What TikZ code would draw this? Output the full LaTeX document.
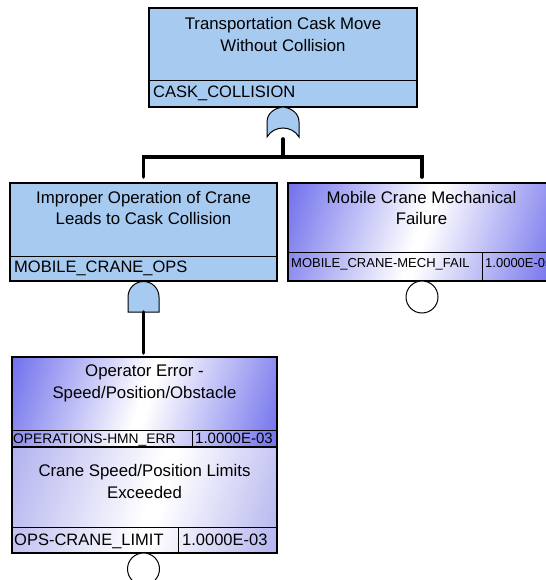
\documentclass[tikz,border=0pt]{standalone}
\usepackage{fontspec}
\setmainfont{Liberation Sans}
\definecolor{ftblue}{RGB}{166,202,240}
\definecolor{ftpurple}{RGB}{110,110,236}
\definecolor{ftlav}{RGB}{172,172,238}
\pgfdeclareverticalshading{evax}{100bp}{color(0bp)=(ftpurple); color(18bp)=(ftpurple); color(49bp)=(white); color(51bp)=(white); color(82bp)=(ftpurple); color(100bp)=(ftpurple)}
\pgfdeclareverticalshading{lavax}{100bp}{color(0bp)=(ftlav); color(16bp)=(ftlav); color(46bp)=(white); color(49bp)=(white); color(84bp)=(ftlav); color(100bp)=(ftlav)}
\tikzset{
  box/.style={draw=black, line width=1.3bp, inner sep=0pt, outer sep=0pt, anchor=north west},
  bluebox/.style={box, fill=ftblue},
  evbox/.style={box, shading=evax, shading angle=72},
  lavbox/.style={box, shading=lavax, shading angle=72},
  divline/.style={draw=black, line width=1bp},
  lbl/.style={anchor=base, inner sep=0pt, font=\fontsize{16.8bp}{19bp}\selectfont},
  idl/.style={anchor=base west, inner sep=0pt, font=\fontsize{16.5bp}{19bp}\selectfont},
  idsmall/.style={anchor=base west, inner sep=0pt, font=\fontsize{13bp}{15bp}\selectfont},
  idmid/.style={anchor=base west, inner sep=0pt, font=\fontsize{13.8bp}{16bp}\selectfont},
  conn/.style={draw=black, line width=3.6bp, line cap=round},
  gate/.style={draw=black, line width=1bp, fill=ftblue},
  basic/.style={circle, draw=black, line width=1bp, fill=white, minimum size=32bp, inner sep=0pt}
}
\begin{document}
\begin{tikzpicture}[x=1bp,y=-1bp]
\useasboundingbox (0,0) rectangle (546,580);
\clip (0,0) rectangle (546,580);
% top gate event
\node[bluebox, minimum width=268bp, minimum height=99bp] (top) at (149,8) {};
\draw[divline] (149,81) -- (417,81);
\node[lbl] (topt1) at (283,30) {Transportation Cask Move};
\node[lbl] (topt2) at (283,52) {Without Collision};
\node[idl] (topid) at (153,98) {CASK\_COLLISION};
% OR gate
\draw[gate] (267,137) -- (267,122) .. controls (267,113) and (275,108) .. (283,107)
  .. controls (291,108) and (299,113) .. (299,122) -- (299,137)
  .. controls (292,125) and (274,125) .. (267,137) -- cycle;
\coordinate (orout) at (283,139);
\coordinate (split) at (283,157);
% left gate event
\node[bluebox, minimum width=267bp, minimum height=98bp] (lbox) at (10,183) {};
\draw[divline] (10,256) -- (277,256);
\node[lbl] (lt1) at (143.5,203) {Improper Operation of Crane};
\node[lbl] (lt2) at (143.5,224) {Leads to Cask Collision};
\node[idl] (lid) at (14,272) {MOBILE\_CRANE\_OPS};
% right basic event
\node[evbox, minimum width=267bp, minimum height=98bp] (rbox) at (288,183) {};
\draw[divline] (288,252) -- (555,252);
\draw[divline] (482,252) -- (482,281);
\node[lbl] (rt1) at (421.5,203) {Mobile Crane Mechanical};
\node[lbl] (rt2) at (421.5,224) {Failure};
\node[idsmall] (rid) at (291,267) {MOBILE\_CRANE-MECH\_FAIL};
\node[idsmall] (rval) at (485,267) {1.0000E-05};
\node[basic] (rcirc) at (422,297) {};
% connectors from OR gate
\draw[conn] (orout) -- (split) -| ([yshift=6bp]lbox.north);
\draw[conn] (split) -| ([yshift=6bp]rbox.north -| rcirc.north);
% AND gate
\draw[gate] (128,312) -- (128,297) arc[start angle=180, end angle=360, radius=15.5] -- (159,312) -- cycle;
\coordinate (andout) at (143.5,312);
% bottom events
\node[evbox, line width=1.8bp, minimum width=265bp, minimum height=90bp] (opbox) at (12,357) {};
\draw[divline] (12,430) -- (277,430);
\draw[divline] (192,430) -- (192,447);
\node[lbl] (ot1) at (144.5,376) {Operator Error -};
\node[lbl] (ot2) at (144.5,398) {Speed/Position/Obstacle};
\node[idmid] (oid) at (13,443) {OPERATIONS-HMN\_ERR};
\node[idmid, font=\fontsize{15bp}{16bp}\selectfont] (oval) at (195,443) {1.0000E-03};
\node[lavbox, line width=1.8bp, minimum width=265bp, minimum height=106bp] (crbox) at (12,447) {};
\draw[divline] (12,527) -- (277,527);
\draw[divline] (178,527) -- (178,553);
\node[lbl] (ct1) at (144.5,476) {Crane Speed/Position Limits};
\node[lbl] (ct2) at (144.5,498) {Exceeded};
\node[idl] (cid) at (14,545) {OPS-CRANE\_LIMIT};
\node[idl] (cval) at (182,545) {1.0000E-03};
\node[basic] (ccirc) at (143.5,569) {};
\draw[conn] (andout) -- ([yshift=4bp]opbox.north -| andout);
\end{tikzpicture}
\end{document}
